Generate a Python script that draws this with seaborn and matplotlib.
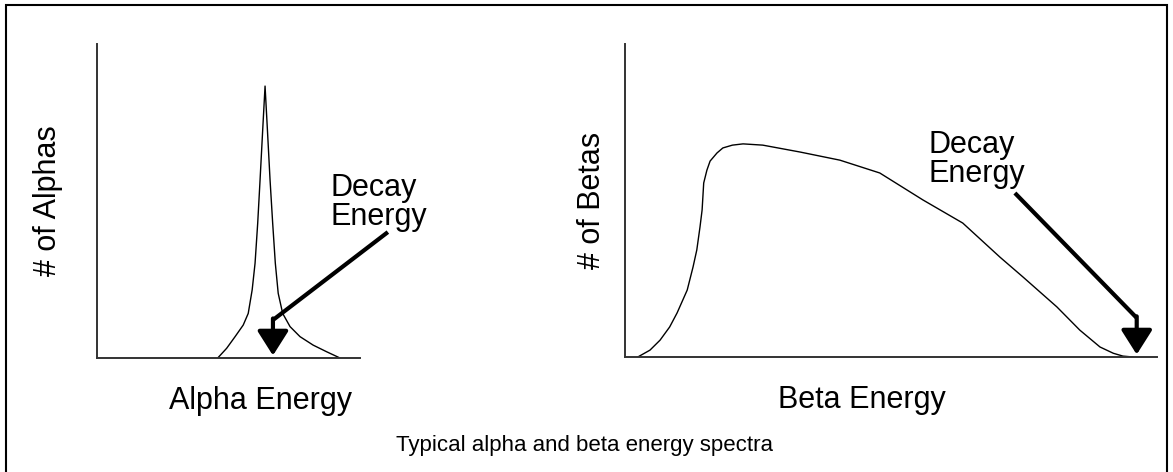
import matplotlib
matplotlib.use("Agg")
import matplotlib.pyplot as plt
import pandas as pd
import seaborn as sns
from matplotlib.patches import Rectangle

# ---------------------------- data ----------------------------
# energy and counts in arbitrary units (0-100 on both axes)
alpha_energy = [45.9, 49.3, 52.5, 55.6, 57.5, 59.0, 60.1, 61.1, 62.0, 63.0, 63.9,
                64.8, 65.8, 66.8, 67.8, 68.9, 70.6, 73.4, 77.2, 82.2, 87.3, 92.4]
alpha_counts = [0.0, 3.1, 6.8, 10.5, 14.2, 21.7, 30.2, 42.9, 56.7, 72.6, 86.6,
                72.6, 56.7, 42.9, 30.2, 20.6, 14.2, 10.0, 6.8, 4.1, 2.0, 0.0]

beta_energy = [2.4, 4.7, 6.6, 8.4, 9.8, 11.7, 12.8, 13.5, 14.1, 14.5, 14.8, 15.4,
               16.0, 17.3, 18.4, 20.2, 22.2, 25.9, 32.9, 40.4, 47.9, 56.0, 63.5,
               70.5, 74.8, 81.2, 85.5, 89.3, 91.8, 93.6, 95.5]
beta_counts = [0.0, 2.2, 5.4, 9.6, 14.1, 21.4, 28.8, 34.2, 41.5, 47.0, 55.6, 59.7,
               62.6, 65.2, 66.8, 67.7, 68.1, 67.7, 65.5, 62.9, 58.8, 50.2, 42.8,
               31.9, 25.6, 16.0, 8.6, 3.2, 1.2, 0.3, 0.0]

# decay energy pointer: (tip x, shaft top y, diagonal end x, diagonal end y)
alpha_pointer = (66.9, 12.1, 110.6, 40.1)
beta_pointer = (96.2, 12.5, 73.3, 52.4)
alpha_text_pos = (88.6, 59.0)
beta_text_pos = (57.0, 72.5)

x_labels = ["Alpha Energy", "Beta Energy"]
y_labels = ["# of Alphas", "# of Betas"]
pointer_text = "Decay\nEnergy"
caption = "Typical alpha and beta energy spectra"

# ---------------------------- plot ----------------------------
sns.set_style("white")
plt.rcParams["font.family"] = ["Liberation Sans", "DejaVu Sans"]
plt.rcParams["text.color"] = "black"
plt.rcParams["axes.labelcolor"] = "black"

fig = plt.figure(figsize=(11.73, 4.72), dpi=100)
ax_a = fig.add_axes([0.0827, 0.2415, 0.2242, 0.6653])
ax_b = fig.add_axes([0.5328, 0.2436, 0.4535, 0.6631])

alpha_df = pd.DataFrame({"energy": alpha_energy, "counts": alpha_counts})
beta_df = pd.DataFrame({"energy": beta_energy, "counts": beta_counts})

panels = [
    (ax_a, alpha_df, alpha_pointer, alpha_text_pos, x_labels[0], y_labels[0], 0.62, -0.13),
    (ax_b, beta_df, beta_pointer, beta_text_pos, x_labels[1], y_labels[1], 0.445, -0.033),
]
for ax, df, pointer, text_pos, xl, yl, xl_x, yl_x in panels:
    sns.lineplot(data=df, x="energy", y="counts", ax=ax, color="black",
                 lw=1.0, estimator=None, sort=False)
    ax.set_xlim(0, 100)
    ax.set_ylim(0, 100)
    ax.set_xticks([])
    ax.set_yticks([])
    sns.despine(ax=ax)
    for side in ("left", "bottom"):
        ax.spines[side].set_color("#333333")
        ax.spines[side].set_linewidth(1.4)

    tip_x, shaft_y, end_x, end_y = pointer
    ax.plot([tip_x, end_x], [shaft_y, end_y], color="black", lw=3,
            solid_capstyle="butt", clip_on=False)
    ax.annotate("", xy=(tip_x, 0.8), xytext=(tip_x, shaft_y + 0.5),
                arrowprops=dict(arrowstyle="-|>,head_width=0.95,head_length=1.5",
                                mutation_scale=10, lw=3, color="black",
                                shrinkA=0, shrinkB=0),
                annotation_clip=False)
    ax.text(text_pos[0], text_pos[1], pointer_text, fontsize=22, ha="left",
            va="top", linespacing=0.95, clip_on=False)

    ax.set_xlabel(xl, fontsize=22, va="top")
    ax.set_ylabel(yl, fontsize=22)
    ax.xaxis.set_label_coords(xl_x, -0.09)
    ax.yaxis.set_label_coords(yl_x, 0.5)

fig.text(0.4987, 0.057, caption, fontsize=16, ha="center", va="center")

# frame around the whole figure (open at the bottom edge)
fig.patches.append(Rectangle((6 / 1173, -0.1), 1161 / 1173, 1.1 - 5 / 472,
                             transform=fig.transFigure, fill=False,
                             lw=1.5, ec="black"))

fig.savefig("out.png", dpi=100)
